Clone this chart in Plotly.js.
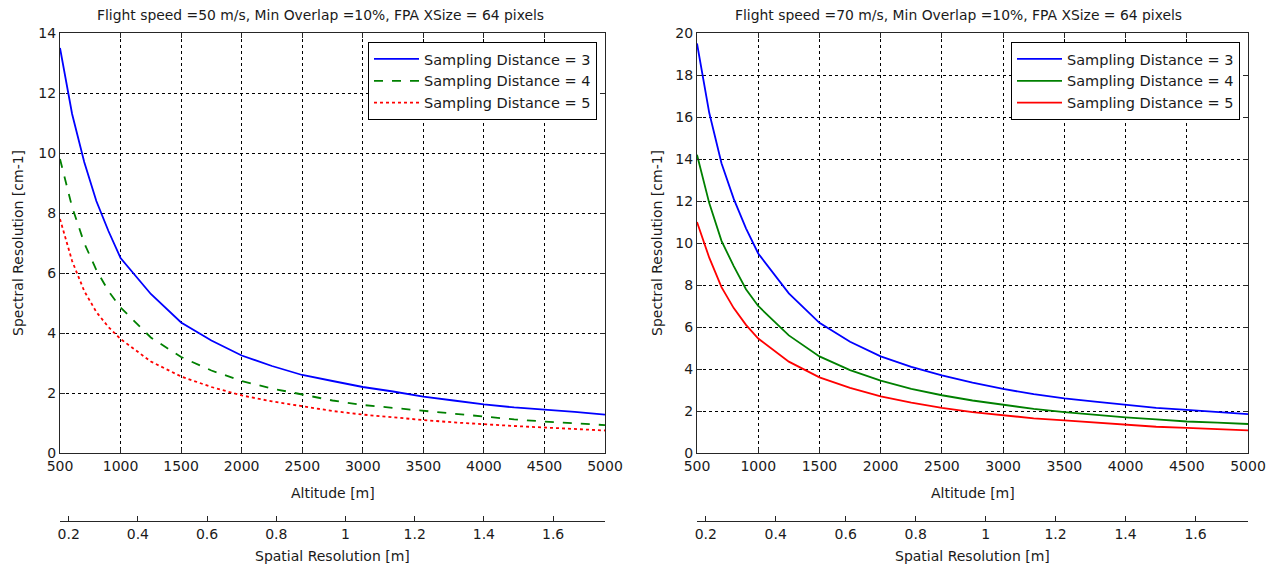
<!DOCTYPE html>
<html>
<head>
<meta charset="utf-8">
<script src="https://cdn.plot.ly/plotly-3.0.1.min.js"></script>
<style>
html,body{margin:0;padding:0;background:#fff;}
#chart{width:1273px;height:569px;}
</style>
</head>
<body>
<div id="chart"></div>
<script>
// Altitude [m]
const altitude = [500,600,700,800,900,1000,1250,1500,1750,2000,2250,2500,2750,3000,3250,3500,3750,4000,4250,4500,4750,5000];

// Left: flight speed 50 m/s
const left_sd3 = [13.5,11.3,9.7,8.4,7.4,6.5,5.3,4.35,3.75,3.25,2.9,2.6,2.4,2.2,2.05,1.88,1.75,1.62,1.52,1.45,1.37,1.28];
const left_sd4 = [9.8,8.2,7.0,6.1,5.4,4.85,3.85,3.2,2.75,2.4,2.15,1.95,1.75,1.6,1.5,1.4,1.3,1.2,1.12,1.05,1.0,0.93];
const left_sd5 = [7.8,6.4,5.4,4.7,4.2,3.8,3.05,2.55,2.2,1.92,1.72,1.55,1.4,1.28,1.18,1.1,1.02,0.95,0.9,0.85,0.8,0.75];

// Right: flight speed 70 m/s
const right_sd3 = [19.5,16.2,13.8,12.1,10.7,9.5,7.6,6.2,5.3,4.6,4.1,3.7,3.35,3.05,2.8,2.6,2.45,2.3,2.15,2.05,1.95,1.85];
const right_sd4 = [14.2,11.9,10.1,8.9,7.8,7.0,5.6,4.6,3.95,3.45,3.05,2.75,2.5,2.3,2.1,1.95,1.82,1.7,1.6,1.5,1.45,1.38];
const right_sd5 = [11.0,9.3,7.9,6.9,6.1,5.45,4.35,3.6,3.1,2.7,2.4,2.15,1.95,1.8,1.65,1.55,1.45,1.35,1.25,1.2,1.15,1.08];

const seriesNames = ["Sampling Distance = 3","Sampling Distance = 4","Sampling Distance = 5"];
const titles = ["Flight speed =50 m/s, Min Overlap =10%, FPA XSize = 64 pixels",
                "Flight speed =70 m/s, Min Overlap =10%, FPA XSize = 64 pixels"];
const altitudeTitle = "Altitude [m]";
const spatialTitle = "Spatial Resolution [m]";
const spectralTitle = "Spectral Resolution [cm-1]";
const altitudeTicks = [500,1000,1500,2000,2500,3000,3500,4000,4500,5000];
const spatialTicks = [0.2,0.4,0.6,0.8,1,1.2,1.4,1.6];
const spatialRange = [0.175,1.75];
const leftYTicks = [0,2,4,6,8,10,12,14];
const rightYTicks = [0,2,4,6,8,10,12,14,16,18,20];

const FONT = "DejaVu Sans, Arial, sans-serif";
const FS = 14;
const TXT = "#1a1a1a";
const W = 1273, H = 569;
const colors = ["#0000ff","#008000","#ff0000"];

const traces = [];
const leftData = [left_sd3,left_sd4,left_sd5];
const leftDash = ["solid","dash","dot"];
leftData.forEach((d,i)=>traces.push({
  x: altitude, y: d, type:"scatter", mode:"lines", name: seriesNames[i],
  xaxis:"x", yaxis:"y", legend:"legend",
  line:{color:colors[i], width:1.8, dash:leftDash[i]}
}));
const rightData = [right_sd3,right_sd4,right_sd5];
rightData.forEach((d,i)=>traces.push({
  x: altitude, y: d, type:"scatter", mode:"lines", name: seriesNames[i],
  xaxis:"x2", yaxis:"y2", legend:"legend2",
  line:{color:colors[i], width:1.8, dash:"solid"}
}));
// empty carriers so the secondary (spatial resolution) axes are drawn
["x3","x4"].forEach((ax,i)=>traces.push({
  x: spatialTicks, y: spatialTicks.map(()=>null), type:"scatter", mode:"lines",
  xaxis: ax, yaxis: i===0 ? "y" : "y2", showlegend:false, hoverinfo:"skip"
}));

const px = v => v / W;
const py = v => (H - v) / H;

const domL = [px(60), px(605)];
const domR = [px(697), px(1248)];
const domY = [py(453), py(33)];

function mainX(dom, anchor){
  return {
    domain: dom, anchor: anchor, range:[500,5000], tickvals: altitudeTicks,
    ticktext: altitudeTicks.map(String),
    showline:true, linecolor:"#262626", linewidth:1, mirror:"ticks",
    ticks:"inside", ticklen:5, tickcolor:"#262626",
    showgrid:true, gridcolor:"#000", gridwidth:1, griddash:"3px,3px",
    zeroline:false, tickfont:{family:FONT, size:FS, color:TXT},
    automargin:false
  };
}
function mainY(anchor, range, ticks){
  return {
    domain: domY, anchor: anchor, range: range, tickvals: ticks,
    showline:true, linecolor:"#262626", linewidth:1, mirror:"ticks",
    ticks:"inside", ticklen:5, tickcolor:"#262626",
    showgrid:true, gridcolor:"#000", gridwidth:1, griddash:"3px,3px",
    zeroline:false, tickfont:{family:FONT, size:FS, color:TXT},
    automargin:false
  };
}
function secX(overlay, dom){
  return {
    overlaying: overlay, anchor:"free", position: py(521), domain: dom, side:"bottom",
    range: spatialRange, tickvals: spatialTicks, ticktext: spatialTicks.map(String),
    showline:true, linecolor:"#262626", linewidth:1,
    ticks:"inside", ticklen:5, tickcolor:"#262626",
    showgrid:false, zeroline:false,
    tickfont:{family:FONT, size:FS, color:TXT},
    automargin:false
  };
}

const legendBase = {
  bgcolor:"#fff", bordercolor:"#000", borderwidth:1,
  font:{family:FONT,size:14.5,color:TXT},
  xanchor:"right", yanchor:"top", tracegroupgap:0, itemwidth:45
};

function ann(text, x, y, angle, size){
  return {text:text, xref:"paper", yref:"paper", x:x, y:y, showarrow:false,
    xanchor:"center", yanchor:"middle", textangle: angle||0,
    font:{family:FONT,size:size||FS,color:TXT}};
}
const cL = (domL[0]+domL[1])/2, cR = (domR[0]+domR[1])/2;
const cY = (domY[0]+domY[1])/2;

const layout = {
  width:W, height:H, paper_bgcolor:"#fff", plot_bgcolor:"#fff",
  margin:{l:0,r:0,t:0,b:0},
  showlegend:true,
  xaxis: mainX(domL,"y"),
  yaxis: mainY("x",[0,14],leftYTicks),
  xaxis2: mainX(domR,"y2"),
  yaxis2: mainY("x2",[0,20],rightYTicks),
  xaxis3: secX("x", domL),
  xaxis4: secX("x2", domR),
  legend: Object.assign({}, legendBase, {x: px(597), y: py(42)}),
  legend2: Object.assign({}, legendBase, {x: px(1240), y: py(42)}),
  annotations: [
    ann(titles[0], px(320), py(15), 0, 13.9), ann(titles[1], px(958), py(15), 0, 13.9),
    ann(altitudeTitle, cL, py(493)), ann(altitudeTitle, cR, py(493)),
    ann(spatialTitle, cL, py(556)), ann(spatialTitle, cR, py(556)),
    ann(spectralTitle, px(18), cY, -90), ann(spectralTitle, px(657), cY, -90)
  ]
};

Plotly.newPlot("chart", traces, layout, {staticPlot:true, displayModeBar:false});
</script>
</body>
</html>
